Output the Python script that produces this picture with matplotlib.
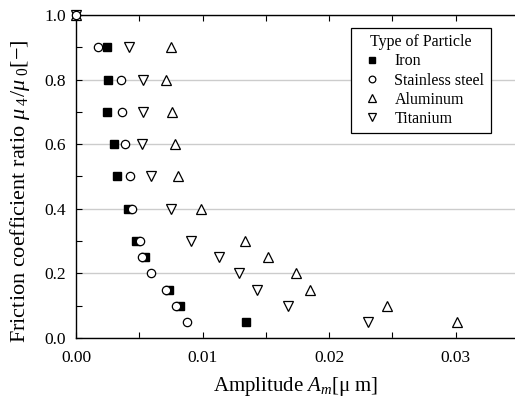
import matplotlib
matplotlib.use("Agg")
import matplotlib.pyplot as plt
from matplotlib.ticker import MultipleLocator

plt.rcParams['font.family'] = ['Liberation Serif', 'DejaVu Serif']
plt.rcParams['mathtext.fontset'] = 'custom'
plt.rcParams['mathtext.it'] = 'Liberation Serif:italic'
plt.rcParams['mathtext.rm'] = 'Liberation Serif'

# friction ratio levels
ratio = [1.0, 0.9, 0.8, 0.7, 0.6, 0.5, 0.4, 0.3, 0.25, 0.2, 0.15, 0.1, 0.05]

# amplitude [um] for each particle type
iron_y = [0.9, 0.8, 0.7, 0.6, 0.5, 0.4, 0.3, 0.25, 0.15, 0.1, 0.05]
iron_x = [0.00242, 0.00250, 0.00248, 0.00300, 0.00324, 0.00408, 0.00471, 0.00548, 0.00735, 0.00824, 0.01340]
steel_x = [0.0, 0.00176, 0.00355, 0.00366, 0.00385, 0.00427, 0.00445, 0.00506, 0.00519, 0.00595, 0.00708, 0.00787, 0.00874]
alum_x = [0.0, 0.00750, 0.00713, 0.00760, 0.00780, 0.00810, 0.00987, 0.01335, 0.01519, 0.01740, 0.01848, 0.02457, 0.03015]
titan_x = [0.0, 0.00419, 0.00527, 0.00527, 0.00521, 0.00590, 0.00750, 0.00908, 0.01130, 0.01288, 0.01432, 0.01677, 0.02306]

fig = plt.figure(figsize=(5.15, 4.03), dpi=100)
ax = fig.add_axes([0.1476, 0.1613, 0.8524, 0.8015])

ms = 6
ax.plot(iron_x, iron_y, 's', color='black', ms=ms - 0.5, label='Iron', zorder=3, clip_on=False)
ax.plot(steel_x, ratio, 'o', mfc='white', mec='black', mew=0.9, ms=ms, label='Stainless steel', zorder=4, clip_on=False)
ax.plot(alum_x, ratio, '^', mfc='white', mec='black', mew=0.9, ms=ms + 1, label='Aluminum', zorder=3, clip_on=False)
ax.plot(titan_x, ratio, 'v', mfc='white', mec='black', mew=0.9, ms=ms + 1, label='Titanium', zorder=3, clip_on=False)

ax.set_xlim(0, 0.0347)
ax.set_ylim(0, 1.0)
ax.xaxis.set_major_locator(MultipleLocator(0.01))
ax.xaxis.set_minor_locator(MultipleLocator(0.005))
ax.yaxis.set_major_locator(MultipleLocator(0.2))
ax.yaxis.set_minor_locator(MultipleLocator(0.1))
ax.xaxis.set_major_formatter(matplotlib.ticker.FormatStrFormatter('%.2f'))
ax.yaxis.set_major_formatter(matplotlib.ticker.FormatStrFormatter('%.1f'))
ax.tick_params(which='both', direction='in', top=True, right=False, length=4, width=0.8, labelsize=12.5)
ax.tick_params(axis='x', pad=9)
ax.tick_params(axis='y', pad=7)
ax.grid(axis='y', which='major', color='#cccccc', linewidth=1.0)
ax.set_axisbelow(True)
for s in ax.spines.values():
    s.set_linewidth(1.0)
ax.spines['right'].set_visible(False)

ax.set_xlabel(r'Amplitude $A_{m}$[μ m]', fontsize=15, labelpad=6)
ax.set_ylabel(r'Friction coefficient ratio $\mu_{\ 4}/\mu_{\ 0}$[−]', fontsize=16)
ax.yaxis.set_label_coords(-0.10, 0.455)

leg = ax.legend(title='Type of Particle', loc='upper right', bbox_to_anchor=(0.945, 0.96),
                borderaxespad=0, fontsize=11.5, title_fontsize=11.5, fancybox=False,
                edgecolor='black', framealpha=1, handletextpad=0.5, borderpad=0.4,
                labelspacing=0.2, handlelength=1.8, markerscale=0.8)
leg.get_frame().set_linewidth(0.9)

fig.savefig('out.png', dpi=100)
